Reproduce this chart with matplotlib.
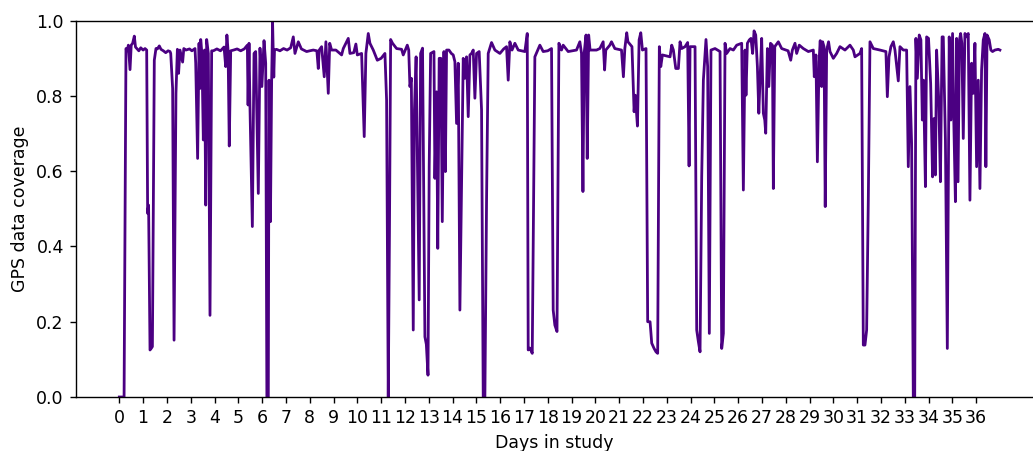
import matplotlib
matplotlib.use("Agg")
import matplotlib.pyplot as plt

days = [
    0.00, 0.20, 0.28, 0.33, 0.38, 0.45, 0.50, 0.56, 0.63, 0.68, 0.75, 0.82, 0.90, 1.00, 1.08, 1.15,
    1.19, 1.23, 1.29, 1.35, 1.39, 1.47, 1.54, 1.60, 1.68, 1.75, 1.85, 1.95, 2.05, 2.13, 2.16, 2.24,
    2.30, 2.38, 2.44, 2.49, 2.55, 2.66, 2.71, 2.80, 2.95, 3.05, 3.18, 3.21, 3.29, 3.35, 3.39, 3.42,
    3.47, 3.53, 3.58, 3.63, 3.67, 3.74, 3.81, 3.88, 3.95, 4.10, 4.25, 4.40, 4.47, 4.52, 4.57, 4.62,
    4.68, 4.80, 4.95, 5.10, 5.25, 5.38, 5.41, 5.45, 5.49, 5.59, 5.66, 5.73, 5.84, 5.91, 5.99, 6.08,
    6.15, 6.20, 6.26, 6.29, 6.35, 6.40, 6.44, 6.49, 6.52,
    6.60, 6.75, 6.90, 7.05, 7.20, 7.31, 7.38, 7.52, 7.65, 7.87, 8.00, 8.15, 8.30, 8.36, 8.40, 8.50,
    8.61, 8.68, 8.78, 8.84, 8.92, 9.10, 9.34, 9.41, 9.62, 9.69, 9.85, 9.94, 10.00, 10.18, 10.29,
    10.36, 10.46, 10.53, 10.67, 10.84, 11.00, 11.16, 11.23, 11.30, 11.35, 11.40, 11.48, 11.65,
    11.86, 11.93, 12.10, 12.16, 12.21, 12.27, 12.35, 12.40, 12.47, 12.53, 12.60, 12.66, 12.74,
    12.84, 12.90, 12.97, 13.02, 13.08, 13.22, 13.26, 13.33, 13.38, 13.44, 13.51, 13.57, 13.64,
    13.70, 13.75, 13.85, 13.95, 14.03, 14.10, 14.17, 14.24, 14.31, 14.38, 14.45, 14.52, 14.59,
    14.66, 14.73, 14.80, 14.87, 14.94, 15.01, 15.12, 15.22, 15.29, 15.36, 15.43, 15.50, 15.64,
    15.78, 15.99, 16.15, 16.27, 16.34, 16.41, 16.50, 16.62, 16.76, 17.04, 17.14, 17.18, 17.25,
    17.35, 17.46, 17.67, 17.81, 18.00, 18.16, 18.23, 18.30, 18.39, 18.47, 18.58, 18.65, 18.86,
    19.21, 19.35, 19.42, 19.48, 19.53, 19.61, 19.66, 19.72, 19.78, 20.05, 20.19, 20.33, 20.39,
    20.44, 20.61, 20.68, 20.82, 21.10, 21.18, 21.24, 21.32, 21.37, 21.54, 21.63, 21.68, 21.77,
    21.84, 21.91, 21.98, 22.13, 22.20, 22.30, 22.37, 22.47, 22.55, 22.62, 22.69, 22.75, 22.82,
    23.14, 23.21, 23.28, 23.38, 23.49, 23.56, 23.63, 23.77, 23.88, 23.94, 23.98, 24.19, 24.26,
    24.33, 24.40, 24.47, 24.54, 24.65, 24.72, 24.79, 24.86, 25.03, 25.24, 25.31, 25.38, 25.45,
    25.52, 25.66, 25.80, 25.94, 26.15, 26.22, 26.29, 26.33, 26.39, 26.47, 26.54, 26.61, 26.67,
    26.74, 26.81, 26.87, 26.92, 26.99, 27.06, 27.12, 27.16, 27.23, 27.29, 27.36, 27.44, 27.48,
    27.54, 27.69, 27.83, 28.10, 28.21, 28.28, 28.39, 28.46, 28.57, 28.74, 28.95, 29.16, 29.20,
    29.27, 29.33, 29.40, 29.45, 29.51, 29.55, 29.61, 29.66, 29.72, 29.80, 29.86, 30.00, 30.14,
    30.28, 30.49, 30.70, 30.84, 30.91, 31.12, 31.19, 31.26, 31.33, 31.40, 31.47, 31.54, 31.68,
    31.96, 32.21, 32.27, 32.34, 32.42, 32.52, 32.59, 32.73, 32.80, 32.94, 33.08, 33.15, 33.22,
    33.29, 33.36, 33.42, 33.47, 33.53, 33.61, 33.68, 33.74, 33.79, 33.87, 33.92, 34.00, 34.09,
    34.17, 34.23, 34.29, 34.34, 34.43, 34.50, 34.57, 34.62, 34.71, 34.79, 34.87, 34.94, 35.01,
    35.06, 35.13, 35.18, 35.24, 35.30, 35.35, 35.40, 35.46, 35.53, 35.60, 35.67, 35.74, 35.81,
    35.88, 35.95, 36.02, 36.09, 36.16, 36.23, 36.30, 36.37, 36.41, 36.46, 36.55, 36.62, 36.69,
    36.79, 36.93, 37.00,
]

coverage = [
    0.0, 0.0, 0.926, 0.92, 0.935, 0.87, 0.935, 0.94, 0.959, 0.93, 0.925, 0.92, 0.928, 0.922, 0.926, 0.922,
    0.488, 0.51, 0.125, 0.13, 0.134, 0.895, 0.926, 0.925, 0.933, 0.924, 0.92, 0.915, 0.92, 0.918, 0.913, 0.82,
    0.151, 0.807, 0.924, 0.86, 0.922, 0.89, 0.926, 0.922, 0.925, 0.92, 0.926, 0.887, 0.634, 0.94, 0.82, 0.95,
    0.913, 0.683, 0.922, 0.51, 0.95, 0.913, 0.217, 0.92, 0.92, 0.925, 0.92, 0.93, 0.878, 0.962, 0.92, 0.667,
    0.92, 0.922, 0.925, 0.92, 0.925, 0.935, 0.776, 0.94, 0.771, 0.453, 0.913, 0.918, 0.541, 0.927, 0.825, 0.947,
    0.887, 0.0, 0.0, 0.842, 0.466, 0.84, 0.995, 0.85, 0.922,
    0.924, 0.92, 0.926, 0.922, 0.928, 0.957, 0.913, 0.944, 0.925, 0.918, 0.92, 0.922, 0.92, 0.873, 0.922, 0.931,
    0.851, 0.944, 0.807, 0.94, 0.922, 0.922, 0.909, 0.926, 0.953, 0.913, 0.915, 0.938, 0.909, 0.913, 0.692,
    0.913, 0.966, 0.94, 0.922, 0.895, 0.9, 0.913, 0.789, 0.0, 0.435, 0.95, 0.94, 0.926,
    0.924, 0.909, 0.935, 0.922, 0.825, 0.847, 0.178, 0.763, 0.904, 0.612, 0.258, 0.913, 0.927,
    0.16, 0.14, 0.058, 0.612, 0.913, 0.918, 0.581, 0.811, 0.395, 0.9, 0.9, 0.466, 0.918,
    0.599, 0.922, 0.922, 0.913, 0.909, 0.891, 0.727, 0.887, 0.231, 0.559, 0.9, 0.847, 0.904,
    0.745, 0.909, 0.913, 0.922, 0.794, 0.913, 0.918, 0.763, 0.0, 0.0, 0.523, 0.913, 0.942,
    0.922, 0.913, 0.925, 0.931, 0.842, 0.944, 0.922, 0.94, 0.922, 0.918, 0.966, 0.125, 0.13,
    0.116, 0.904, 0.935, 0.918, 0.92, 0.926, 0.231, 0.191, 0.174, 0.94, 0.922, 0.935, 0.918,
    0.922, 0.944, 0.913, 0.546, 0.913, 0.962, 0.634, 0.962, 0.922, 0.922, 0.926, 0.944, 0.869,
    0.922, 0.935, 0.944, 0.926, 0.922, 0.851, 0.926, 0.968, 0.944, 0.931, 0.758, 0.802, 0.72,
    0.949, 0.968, 0.922, 0.926, 0.2, 0.2, 0.143, 0.129, 0.12, 0.116, 0.931, 0.878, 0.909,
    0.904, 0.935, 0.922, 0.873, 0.873, 0.944, 0.926, 0.931, 0.942, 0.614, 0.931, 0.931, 0.178,
    0.147, 0.12, 0.585, 0.842, 0.95, 0.878, 0.169, 0.922, 0.926, 0.918, 0.129, 0.169, 0.94,
    0.913, 0.926, 0.922, 0.935, 0.94, 0.55, 0.922, 0.802, 0.94, 0.949, 0.953, 0.913, 0.973,
    0.962, 0.878, 0.754, 0.842, 0.953, 0.754, 0.736, 0.701, 0.926, 0.825, 0.94, 0.935, 0.554,
    0.931, 0.944, 0.926, 0.92, 0.895, 0.922, 0.94, 0.913, 0.935, 0.926, 0.918, 0.922, 0.851,
    0.909, 0.625, 0.891, 0.947, 0.825, 0.944, 0.931, 0.506, 0.922, 0.944, 0.918, 0.9, 0.913,
    0.931, 0.922, 0.935, 0.922, 0.904, 0.913, 0.926, 0.138, 0.138, 0.178, 0.523, 0.944, 0.926,
    0.922, 0.918, 0.798, 0.904, 0.931, 0.944, 0.922, 0.84, 0.931, 0.922, 0.922, 0.612, 0.825,
    0.674, 0.0, 0.0, 0.953, 0.847, 0.962, 0.949, 0.736, 0.842, 0.559, 0.957, 0.953, 0.833,
    0.585, 0.74, 0.59, 0.922, 0.789, 0.572, 0.957, 0.957, 0.683, 0.129, 0.957, 0.736, 0.966,
    0.74, 0.519, 0.953, 0.572, 0.949, 0.966, 0.94, 0.687, 0.966, 0.957, 0.966, 0.523, 0.887,
    0.807, 0.94, 0.612, 0.842, 0.554, 0.869, 0.949, 0.966, 0.612, 0.962, 0.949, 0.922, 0.918,
    0.922, 0.924, 0.922,
]

xticks = list(range(0, 37))
line_color = "#4b0082"

DPI = 125
fig = plt.figure(figsize=(1033 / DPI, 451 / DPI), dpi=DPI)
ax = fig.add_axes([76 / 1033, 54 / 451, (1033 - 76) / 1033, (397 - 20.7) / 451])
ax.plot(days, coverage, color=line_color, linewidth=1.6)
ax.set_xlim(-1.82, 38.39)
ax.set_ylim(0, 1.0)
ax.set_xticks(xticks)
ax.set_xticklabels([str(t) for t in xticks])
ax.set_yticks([0.0, 0.2, 0.4, 0.6, 0.8, 1.0])
ax.spines["right"].set_visible(False)
ax.set_xlabel("Days in study")
ax.set_ylabel("GPS data coverage")
fig.savefig("out.png", dpi=DPI)
